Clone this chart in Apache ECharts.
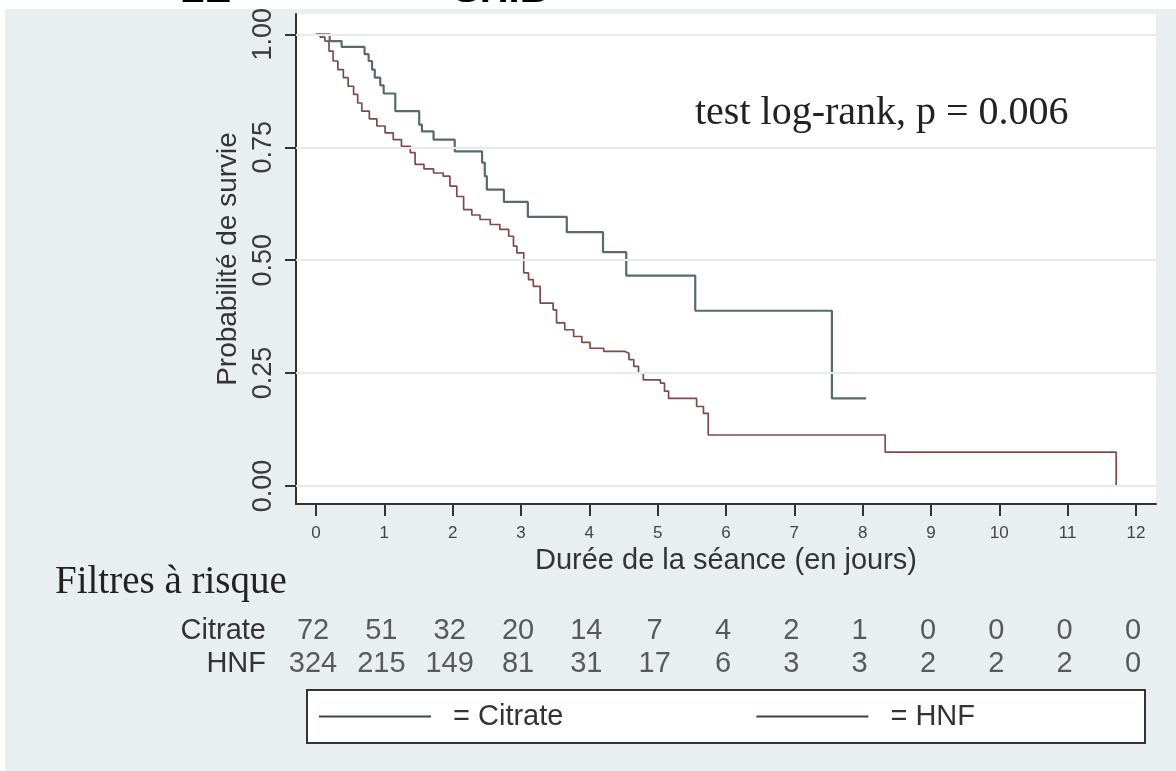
<!DOCTYPE html>
<html>
<head>
<meta charset="utf-8">
<script src="https://cdn.jsdelivr.net/npm/echarts@6/dist/echarts.min.js"></script>
<style>
    html, body { margin: 0; padding: 0; background: #fff; overflow: hidden; }
    #bg { position: absolute; left: 5px; top: 9px; right: 0; bottom: 0; background: #e9eff1; }
    #chart { position: absolute; left: 0; top: 0; width: 1176px; height: 771px; }
</style>
</head>
<body>
<div id="bg"></div>
<div id="chart"></div>
<script>
    // axis ticks
    const dayTicks = [0, 1, 2, 3, 4, 5, 6, 7, 8, 9, 10, 11, 12]
    const survTicks = [0, 0.25, 0.5, 0.75, 1]

    // Kaplan-Meier curves, [day, survival]
    const citrateCurve = [
        [0, 1], [0.2, 0.985], [0.375, 0.972], [0.71, 0.956], [0.77, 0.941], [0.82, 0.922],
        [0.86, 0.904], [0.94, 0.887], [0.99, 0.869], [1.16, 0.83], [1.51, 0.8], [1.55, 0.785],
        [1.72, 0.767], [2.03, 0.741], [2.43, 0.716], [2.47, 0.686], [2.5, 0.656], [2.75, 0.629],
        [3.1, 0.596], [3.67, 0.562], [4.2, 0.518], [4.54, 0.466], [5.55, 0.388], [7.55, 0.194],
        [8.05, 0.194]
    ]
    const hnfCurve = [
        [0, 1], [0.06, 0.994], [0.13, 0.985], [0.19, 0.963], [0.25, 0.941], [0.32, 0.922],
        [0.4, 0.904], [0.47, 0.885], [0.55, 0.867], [0.61, 0.848], [0.67, 0.83], [0.78, 0.813],
        [0.89, 0.797], [1.01, 0.782], [1.13, 0.767], [1.25, 0.752], [1.38, 0.738], [1.45, 0.712],
        [1.58, 0.702], [1.72, 0.693], [1.86, 0.686], [1.96, 0.664], [2.06, 0.641], [2.16, 0.612],
        [2.28, 0.6], [2.4, 0.59], [2.55, 0.579], [2.69, 0.568], [2.82, 0.553], [2.89, 0.531],
        [2.94, 0.516], [3.04, 0.472], [3.11, 0.457], [3.18, 0.442], [3.28, 0.405], [3.47, 0.39],
        [3.52, 0.361], [3.64, 0.346], [3.77, 0.331], [3.89, 0.318], [4.01, 0.305], [4.21, 0.298],
        [4.52, 0.294], [4.58, 0.28], [4.65, 0.265], [4.72, 0.25], [4.79, 0.235], [5.04, 0.228],
        [5.1, 0.21], [5.16, 0.194], [5.57, 0.176], [5.67, 0.161], [5.74, 0.113], [8.33, 0.075],
        [11.71, 0]
    ]

    // number at risk table
    const riskRows = ['Citrate', 'HNF']
    const riskCitrate = [72, 51, 32, 20, 14, 7, 4, 2, 1, 0, 0, 0, 0]
    const riskHnf = [324, 215, 149, 81, 31, 17, 6, 3, 3, 2, 2, 2, 0]

    const sans = '"Liberation Sans", Arial, sans-serif'
    const serif = '"Liberation Serif", "Times New Roman", serif'

    const riskData = []
    dayTicks.forEach((d, i) => {
        riskData.push([d, 0, riskCitrate[i]])
        riskData.push([d, 1, riskHnf[i]])
    })

    const myChart = echarts.init(document.getElementById('chart'))

    const option = {
        animation: false,
        backgroundColor: 'transparent',
        grid: [
            {
                left: 296, top: 14, width: 860, height: 490,
                show: true, backgroundColor: '#fff', borderWidth: 0,
                containLabel: false, outerBoundsMode: 'none'
            },
            {
                left: 296, top: 614, width: 860, height: 67,
                containLabel: false, outerBoundsMode: 'none'
            }
        ],
        xAxis: [
            {
                type: 'value', gridIndex: 0, min: -0.293, max: 12.293,
                name: 'Durée de la séance (en jours)', nameLocation: 'middle', nameGap: 40,
                nameTextStyle: { fontSize: 29, color: '#333', fontFamily: sans },
                axisLine: { show: true, onZero: false, lineStyle: { color: '#333', width: 2 } },
                axisTick: { show: true, length: 12, customValues: dayTicks, lineStyle: { color: '#333', width: 2 } },
                axisLabel: { customValues: dayTicks, margin: 21, fontSize: 17, color: '#444', fontFamily: sans },
                splitLine: { show: false }
            },
            {
                type: 'value', gridIndex: 1, min: -0.293, max: 12.293, show: false
            }
        ],
        yAxis: [
            {
                type: 'value', gridIndex: 0, min: -0.0398, max: 1.045,
                name: 'Probabilité de survie', nameLocation: 'middle', nameGap: 44,
                nameTextStyle: { fontSize: 28, color: '#333', fontFamily: sans },
                axisLine: { show: true, onZero: false, lineStyle: { color: '#333', width: 2 } },
                axisTick: { show: true, length: 11, customValues: survTicks, lineStyle: { color: '#333', width: 2 } },
                axisLabel: {
                    customValues: survTicks, rotate: 90, margin: 19, fontSize: 27, color: '#3a3a3a',
                    fontFamily: sans, formatter: v => Number(v).toFixed(2)
                },
                splitLine: { show: false }
            },
            {
                type: 'category', gridIndex: 1, data: riskRows, inverse: true,
                axisLine: { show: false }, axisTick: { show: false }, splitLine: { show: false },
                axisLabel: { interval: 0, margin: 30, fontSize: 29, color: '#333', fontFamily: sans }
            }
        ],
        legend: {
            data: [
                { name: 'Citrate', itemStyle: { color: '#3c474b' } },
                { name: 'HNF', itemStyle: { color: '#4a3d3d' } }
            ],
            left: 307, top: 690,
            icon: 'rect', itemWidth: 112, itemHeight: 2, itemGap: 193,
            formatter: name => '= ' + name,
            textStyle: { fontSize: 29, color: '#333', fontFamily: sans, padding: [0, 0, 0, 17] },
            backgroundColor: '#fff', borderColor: '#333', borderWidth: 2, borderRadius: 0,
            padding: [12, 170, 12, 12]
        },
        graphic: [
            {
                type: 'text', z: 100,
                style: { text: 'test log-rank, p = 0.006', x: 695, y: 113, font: '40px ' + serif, fill: '#222', textVerticalAlign: 'middle' }
            },
            {
                type: 'text', z: 100,
                style: { text: 'Filtres à risque', x: 55, y: 583, font: '39px ' + serif, fill: '#222', textVerticalAlign: 'middle' }
            },
            {
                type: 'text', z: 100,
                style: { text: 'LE', x: 180, y: 11, font: 'bold 40px ' + sans, fill: '#000', textVerticalAlign: 'bottom' }
            },
            {
                type: 'text', z: 100,
                style: { text: 'SHIB', x: 453, y: 11, font: 'bold 40px ' + sans, fill: '#000', textVerticalAlign: 'bottom' }
            }
        ],
        series: [
            {
                name: 'grid', type: 'line', xAxisIndex: 0, yAxisIndex: 0, data: [], z: 1,
                markLine: {
                    silent: true, symbol: ['none', 'none'], label: { show: false },
                    lineStyle: { color: '#e6ebeb', width: 2, type: 'solid' },
                    data: survTicks.map(v => ({ yAxis: v }))
                }
            },
            {
                name: 'HNF', type: 'line', xAxisIndex: 0, yAxisIndex: 0, step: 'end',
                showSymbol: false, symbol: 'none', data: hnfCurve, z: 3,
                lineStyle: { color: '#7d4b4b', width: 1.7 }, itemStyle: { color: '#7d4b4b' }
            },
            {
                name: 'Citrate', type: 'line', xAxisIndex: 0, yAxisIndex: 0, step: 'end',
                showSymbol: false, symbol: 'none', data: citrateCurve, z: 4,
                lineStyle: { color: '#566b70', width: 2.2 }, itemStyle: { color: '#566b70' }
            },
            {
                name: 'risk', type: 'scatter', xAxisIndex: 1, yAxisIndex: 1,
                symbolSize: 1, itemStyle: { color: 'rgba(0,0,0,0)' },
                data: riskData,
                label: {
                    show: true, position: 'inside', offset: [-3, 0],
                    formatter: p => p.value[2],
                    fontSize: 29, color: '#333', fontFamily: sans
                }
            }
        ]
    }
    myChart.setOption(option)
</script>
</body>
</html>
